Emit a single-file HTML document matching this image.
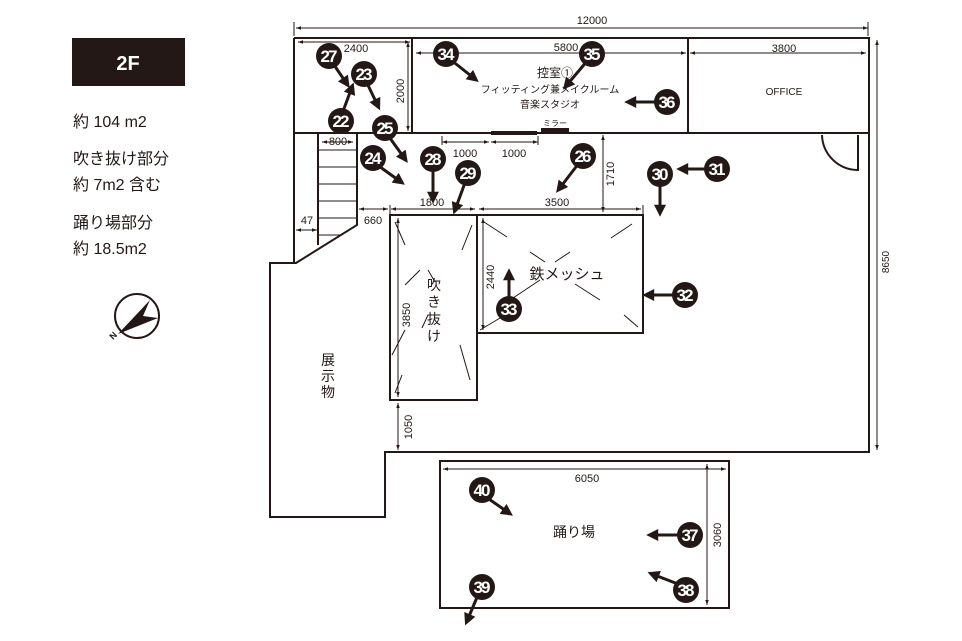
<!DOCTYPE html>
<html><head><meta charset="utf-8"><style>
html,body{margin:0;padding:0;background:#fff}
svg{display:block}
text{font-family:"Liberation Sans","Noto Sans CJK JP",sans-serif;fill:#231815}
.w{stroke:#231815;stroke-width:2;fill:none}
.d{stroke:#231815;stroke-width:1;fill:none}
.m{fill:#231815}
.n{fill:#fff;font-size:17px;font-weight:bold;letter-spacing:-2px;text-anchor:middle}
.a{stroke:#231815;stroke-width:3;fill:none}
.t{font-size:11px;text-anchor:middle}
</style></head><body>
<svg width="962" height="641" viewBox="0 0 962 641" xmlns="http://www.w3.org/2000/svg">
<defs>
<marker id="ah" viewBox="0 0 10 10" refX="6" refY="5" markerWidth="14" markerHeight="12" markerUnits="userSpaceOnUse" orient="auto"><path d="M0,0L10,5L0,10z" fill="#231815"/></marker>
<marker id="dh" viewBox="0 0 10 10" refX="10" refY="5" markerWidth="10" markerHeight="5" markerUnits="userSpaceOnUse" orient="auto"><path d="M0,1.5L10,5L0,8.5z" fill="#231815"/></marker>
<marker id="ds" viewBox="0 0 10 10" refX="0" refY="5" markerWidth="10" markerHeight="5" markerUnits="userSpaceOnUse" orient="auto"><path d="M10,1.5L0,5L10,8.5z" fill="#231815"/></marker>
</defs>

<!-- legend -->
<rect x="72" y="38" width="113" height="48" fill="#231815"/>
<text x="128" y="70" style="fill:#fff;font-size:20px;font-weight:bold" text-anchor="middle">2F</text>
<text x="73" y="127" style="font-size:16px">約 104 m2</text>
<text x="73" y="164" style="font-size:16px">吹き抜け部分</text>
<text x="73" y="190" style="font-size:16px">約 7m2 含む</text>
<text x="73" y="228" style="font-size:16px">踊り場部分</text>
<text x="73" y="254" style="font-size:16px">約 18.5m2</text>
<circle cx="137" cy="316" r="22" class="w"/>
<path d="M118,334 L150,300 L143,316 L158,318 Z" class="m"/>
<text x="111" y="341" style="font-size:9px;font-weight:bold" transform="rotate(-45 111 338)">N</text>

<!-- walls -->
<path class="w" d="M294,38 H869 V452 H385 V517 H270 V263 H296 L357,225 V133 M294,38 V263 M294,133 H869 M412,38 V133 M688,38 V133 M318,133 V245"/>
<path class="d" d="M318,150H357M318,167H357M318,184H357M318,201H357M318,218H357M318,235H340"/>
<path class="w" d="M858,135 V170 A36,36 0 0 1 822,135" />
<rect x="390" y="215" width="87" height="185" class="w"/>
<rect x="477" y="215" width="166" height="118" class="w"/>
<rect x="440" y="461" width="289" height="147" class="w"/>
<rect x="491" y="131" width="46" height="4" class="m"/>
<rect x="541" y="128" width="28" height="4" class="m"/>
<text x="555" y="126" style="font-size:8px" text-anchor="middle">ミラー</text>

<!-- void / mesh hatch -->
<path class="d" d="M395,222L405,245M472,225L462,250M405,285L420,270M405,330L392,355M460,345L470,380M395,393L402,375M428,270L435,282M428,315L422,328M484,222L507,237M632,224L611,238M530,252L545,262M555,262L570,252M540,280L510,300M575,284L600,300M624,315L638,327M480,330L500,318"/>

<!-- dimension lines -->
<g class="d">
<path d="M296,28 H868" marker-start="url(#ds)" marker-end="url(#dh)"/>
<path d="M294,22V36M868,22V36"/>
<path d="M298,42 H410" marker-start="url(#ds)" marker-end="url(#dh)"/>
<path d="M408,42 V131" marker-start="url(#ds)" marker-end="url(#dh)"/>
<path d="M416,53 H686" marker-start="url(#ds)" marker-end="url(#dh)"/>
<path d="M690,53 H866" marker-start="url(#ds)" marker-end="url(#dh)"/>
<path d="M877,40 V450" marker-start="url(#ds)" marker-end="url(#dh)"/>
<path d="M322,142 H353" marker-start="url(#ds)" marker-end="url(#dh)"/>
<path d="M442,142 H489" marker-start="url(#ds)" marker-end="url(#dh)"/>
<path d="M491,142 H538" marker-start="url(#ds)" marker-end="url(#dh)"/>
<path d="M442,136V145M538,136V145"/>
<path d="M603,135 V212" marker-start="url(#ds)" marker-end="url(#dh)"/>
<path d="M391,209 H475" marker-start="url(#ds)" marker-end="url(#dh)"/>
<path d="M479,209 H641" marker-start="url(#ds)" marker-end="url(#dh)"/>
<path d="M390,205V214M643,205V214"/>
<path d="M359,209 H388" marker-start="url(#ds)" marker-end="url(#dh)"/>
<path d="M296,230 H317" marker-start="url(#ds)" marker-end="url(#dh)"/>
<path d="M398,218 V397" marker-start="url(#ds)" marker-end="url(#dh)"/>
<path d="M483,218 V330" marker-start="url(#ds)" marker-end="url(#dh)"/>
<path d="M398,403 V450" marker-start="url(#ds)" marker-end="url(#dh)"/>
<path d="M443,469 H726" marker-start="url(#ds)" marker-end="url(#dh)"/>
<path d="M707,464 V605" marker-start="url(#ds)" marker-end="url(#dh)"/>
</g>
<g class="t">
<text x="592" y="24">12000</text>
<text x="356" y="52">2400</text>
<text x="566" y="51">5800</text>
<text x="784" y="52">3800</text>
<text x="338" y="145">800</text>
<text x="465" y="157">1000</text>
<text x="514" y="157">1000</text>
<text x="432" y="206">1800</text>
<text x="557" y="206">3500</text>
<text x="373" y="224">660</text>
<text x="307" y="224">47</text>
<text x="587" y="482">6050</text>
<text transform="translate(404,91) rotate(-90)">2000</text>
<text transform="translate(614,174) rotate(-90)">1710</text>
<text transform="translate(410,315) rotate(-90)">3850</text>
<text transform="translate(494,277) rotate(-90)">2440</text>
<text transform="translate(412,427) rotate(-90)">1050</text>
<text transform="translate(889,262) rotate(-90)" style="font-size:10px">8650</text>
<text transform="translate(721,535) rotate(-90)">3060</text>
</g>

<!-- room labels -->
<text x="555" y="77" style="font-size:12px" text-anchor="middle">控室①</text>
<text x="550" y="93" style="font-size:10px" text-anchor="middle">フィッティング兼メイクルーム</text>
<text x="550" y="108" style="font-size:10px" text-anchor="middle">音楽スタジオ</text>
<text x="784" y="95" style="font-size:10px" text-anchor="middle">OFFICE</text>
<text x="567" y="279" style="font-size:15px" text-anchor="middle">鉄メッシュ</text>
<text x="574" y="537" style="font-size:14px" text-anchor="middle">踊り場</text>
<g style="font-size:14px" text-anchor="middle">
<text x="434" y="290">吹</text><text x="434" y="307">き</text><text x="434" y="324">抜</text><text x="434" y="341">け</text>
<text x="328" y="365">展</text><text x="328" y="381">示</text><text x="328" y="397">物</text>
</g>

<!-- numbered markers -->
<g class="a">
<path marker-end="url(#ah)" d="M332,62L347,84"/>
<path marker-end="url(#ah)" d="M365,79L378,106"/>
<path marker-end="url(#ah)" d="M342,114L352,87"/>
<path marker-end="url(#ah)" d="M387,134L405,159"/>
<path marker-end="url(#ah)" d="M376,164L401,182"/>
<path marker-end="url(#ah)" d="M433,166L433,199"/>
<path marker-end="url(#ah)" d="M466,180L455,210"/>
<path marker-end="url(#ah)" d="M451,60L475,79"/>
<path marker-end="url(#ah)" d="M588,60L566,86"/>
<path marker-end="url(#ah)" d="M656,102L629,102"/>
<path marker-end="url(#ah)" d="M579,163L559,189"/>
<path marker-end="url(#ah)" d="M660,180L660,212"/>
<path marker-end="url(#ah)" d="M706,169L681,169"/>
<path marker-end="url(#ah)" d="M674,295L647,295"/>
<path marker-end="url(#ah)" d="M509,302L509,273"/>
<path marker-end="url(#ah)" d="M486,497L509,513"/>
<path marker-end="url(#ah)" d="M680,535L651,535"/>
<path marker-end="url(#ah)" d="M678,584L652,574"/>
<path marker-end="url(#ah)" d="M478,595L467,621"/>
</g>
<g>
<circle cx="329" cy="56" r="13" class="m"/><text x="328" y="62" class="n">27</text>
<circle cx="364" cy="74" r="13" class="m"/><text x="363" y="80" class="n">23</text>
<circle cx="341" cy="121" r="13" class="m"/><text x="340" y="127" class="n">22</text>
<circle cx="385" cy="128" r="13" class="m"/><text x="384" y="134" class="n">25</text>
<circle cx="373" cy="158" r="13" class="m"/><text x="372" y="164" class="n">24</text>
<circle cx="433" cy="159" r="13" class="m"/><text x="432" y="165" class="n">28</text>
<circle cx="468" cy="173" r="13" class="m"/><text x="467" y="179" class="n">29</text>
<circle cx="446" cy="54" r="13" class="m"/><text x="445" y="60" class="n">34</text>
<circle cx="592" cy="54" r="13" class="m"/><text x="591" y="60" class="n">35</text>
<circle cx="667" cy="102" r="13" class="m"/><text x="666" y="108" class="n">36</text>
<circle cx="583" cy="156" r="13" class="m"/><text x="582" y="162" class="n">26</text>
<circle cx="660" cy="174" r="13" class="m"/><text x="659" y="180" class="n">30</text>
<circle cx="717" cy="169" r="13" class="m"/><text x="716" y="175" class="n">31</text>
<circle cx="685" cy="295" r="13" class="m"/><text x="684" y="301" class="n">32</text>
<circle cx="509" cy="309" r="13" class="m"/><text x="508" y="315" class="n">33</text>
<circle cx="482" cy="490" r="13" class="m"/><text x="481" y="496" class="n">40</text>
<circle cx="690" cy="535" r="13" class="m"/><text x="689" y="541" class="n">37</text>
<circle cx="686" cy="590" r="13" class="m"/><text x="685" y="596" class="n">38</text>
<circle cx="482" cy="587" r="13" class="m"/><text x="481" y="593" class="n">39</text>
</g>
</svg>
</body></html>
